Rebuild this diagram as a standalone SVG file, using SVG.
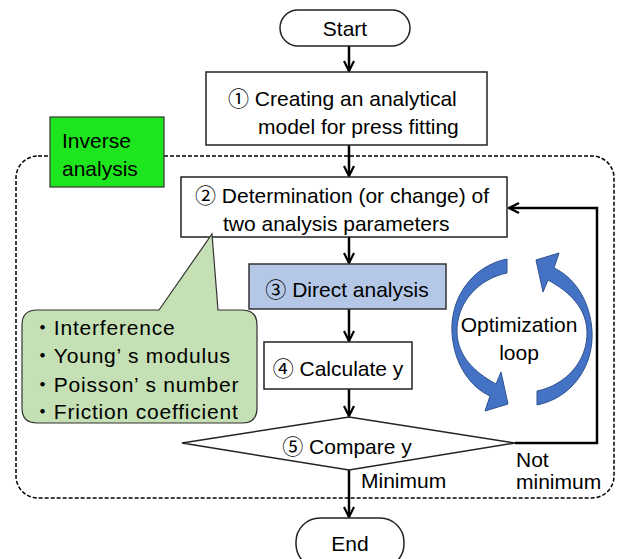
<svg xmlns="http://www.w3.org/2000/svg" width="620" height="559" viewBox="0 0 620 559">
<defs>
<style>
text{font-family:"Liberation Sans","Noto Sans CJK JP",sans-serif;font-size:21px;fill:#000}
.box{fill:#fff;stroke:#222;stroke-width:1.5}
.ln{fill:none;stroke:#000;stroke-width:2.5}
.blue{fill:#4472c4;stroke:#2f528f;stroke-width:1}
.co{letter-spacing:0.8px}
</style>
<marker id="ah" viewBox="0 0 12 12" refX="11" refY="6" markerWidth="12" markerHeight="12" markerUnits="userSpaceOnUse" orient="auto">
<path d="M1,1 L11,6 L1,11" fill="none" stroke="#000" stroke-width="2.2"/>
</marker>
</defs>
<rect width="620" height="559" fill="#fff"/>

<g id="inverse-region">
<rect x="16" y="156" width="598" height="342" rx="22" fill="none" stroke="#000" stroke-width="1.5" stroke-dasharray="4 2"/>
</g>
<g id="inverse-label">
<rect x="50" y="117" width="114" height="70" fill="#1ee61e" stroke="#333" stroke-width="1.2"/>
<text x="62" y="148">Inverse</text>
<text x="62" y="176">analysis</text>
</g>

<g id="connectors">
<line class="ln" x1="349" y1="46" x2="349" y2="71" marker-end="url(#ah)"/>
<line class="ln" x1="349" y1="145" x2="349" y2="176" marker-end="url(#ah)"/>
<line class="ln" x1="349" y1="237" x2="349" y2="263" marker-end="url(#ah)"/>
<line class="ln" x1="349" y1="309" x2="349" y2="341" marker-end="url(#ah)"/>
<line class="ln" x1="349" y1="389" x2="349" y2="416" marker-end="url(#ah)"/>
<line class="ln" x1="349" y1="470" x2="349" y2="517" marker-end="url(#ah)"/>
<polyline class="ln" points="515,443 597,443 597,208 509,208" marker-end="url(#ah)"/>
<text x="361" y="488">Minimum</text>
<text x="516" y="467">Not</text>
<text x="516" y="489">minimum</text>
</g>

<g id="start">
<rect x="280" y="10" width="130" height="36" rx="18" class="box"/>
<text x="345" y="36" text-anchor="middle">Start</text>
</g>

<g id="step1">
<rect x="206" y="72" width="281" height="73" class="box"/>
<text x="228" y="106">① Creating an analytical</text>
<text x="258" y="134">model for press fitting</text>
</g>

<g id="step2">
<rect x="181" y="177" width="326" height="60" class="box"/>
<text x="195" y="203">② Determination (or change) of</text>
<text x="223" y="231">two analysis parameters</text>
</g>

<g id="callout">
<path d="M37,310 L159,310 L212,234 L218,310 L242,310 Q257,310 257,325 L257,408 Q257,423 242,423 L37,423 Q22,423 22,408 L22,325 Q22,310 37,310 Z" fill="#c5e0b4" stroke="#333" stroke-width="1.2"/>
<text class="co" x="32" y="335">・Interference</text>
<text class="co" x="32" y="363">・Young’ s modulus</text>
<text class="co" x="32" y="392">・Poisson’ s number</text>
<text class="co" x="32" y="419">・Friction coefficient</text>
</g>

<g id="step3">
<rect x="249" y="264" width="197" height="45" fill="#b4c7e7" stroke="#333" stroke-width="1.5"/>
<text x="347" y="297" text-anchor="middle">③ Direct analysis</text>
</g>

<g id="step4">
<rect x="264" y="342" width="148" height="47" class="box"/>
<text x="338" y="376" text-anchor="middle">④ Calculate y</text>
</g>

<g id="step5">
<polygon points="182,443 349,417 515,443 349,470" class="box"/>
<text x="347" y="454" text-anchor="middle">⑤  Compare y</text>
</g>

<g id="end">
<rect x="296" y="518" width="108" height="50" rx="24" class="box"/>
<text x="350" y="551" text-anchor="middle">End</text>
</g>

<g id="optimization-loop">
<path class="blue" d="M507,259 C472,266 450,298 452,333 C454,366 472,388 490,396 L485,411 L508,404 L501,372 L496,384 C474,372 458,356 457,333 C456,303 478,279 507,273 Z"/>
<path class="blue" transform="rotate(180 522 332)" d="M507,259 C472,266 450,298 452,333 C454,366 472,388 490,396 L485,411 L508,404 L501,372 L496,384 C474,372 458,356 457,333 C456,303 478,279 507,273 Z"/>
<text x="519" y="332" text-anchor="middle">Optimization</text>
<text x="519" y="360" text-anchor="middle">loop</text>
</g>
</svg>
